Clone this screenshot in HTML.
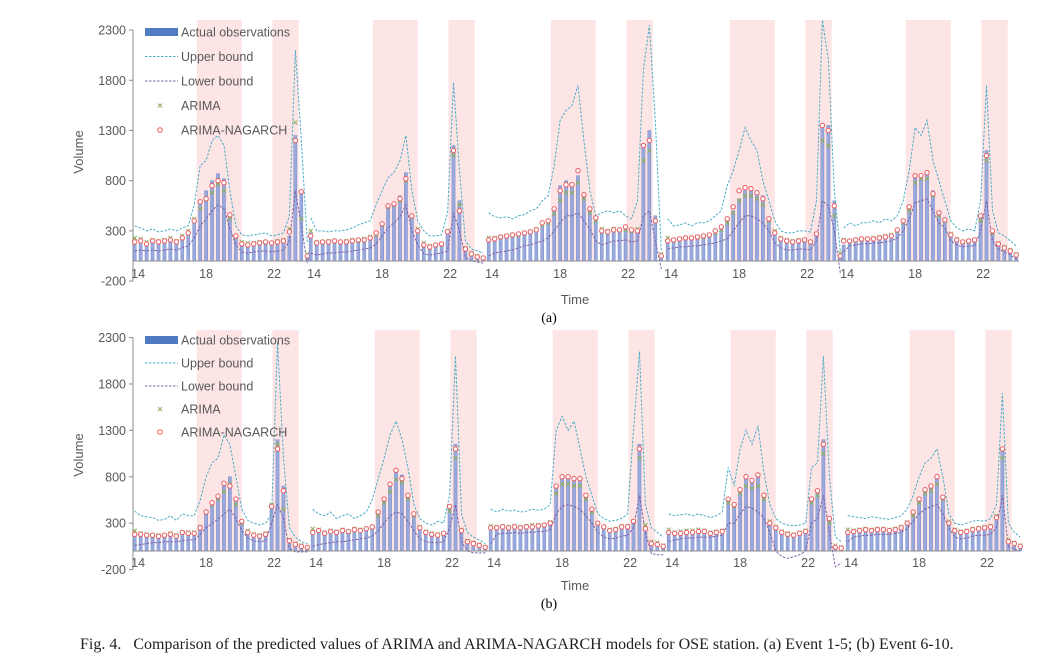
<!DOCTYPE html>
<html><head><meta charset="utf-8">
<style>
html,body{margin:0;padding:0;background:#fff;}
svg{display:block;font-family:"Liberation Sans",sans-serif;}
</style></head>
<body>
<svg id="chart" width="1037" height="663" viewBox="0 0 1037 663" xmlns="http://www.w3.org/2000/svg">
<g id="pa"></g>
<g id="pb"></g>
<text x="549" y="322" font-family="Liberation Serif, serif" font-size="14" text-anchor="middle">(a)</text>
<text x="549" y="608" font-family="Liberation Serif, serif" font-size="14" text-anchor="middle">(b)</text>
<text x="80" y="649" font-family="Liberation Serif, serif" font-size="16" fill="#222">Fig. 4.&#160;&#160; Comparison of the predicted values of ARIMA and ARIMA-NAGARCH models for OSE station. (a) Event 1-5; (b) Event 6-10.</text>
</svg>
<script>
const yTicks=[2300,1800,1300,800,300,-200];
const hourTicks=[14,18,22];
const bandHours=[[17.45,20.1],[21.9,23.45]];
// Panel (a) events 1-5
const actA=[
[180,200,170,190,180,200,210,190,230,270,380,600,700,800,870,820,460,260,170,150,160,170,180,170,180,190,250,1250,700,60],
[280,180,180,190,190,190,190,200,200,210,220,250,380,520,560,650,880,430,300,150,130,150,160,300,1150,600,120,70,40,20],
[200,220,230,240,250,260,270,280,300,350,400,520,750,800,780,850,650,520,420,300,280,300,300,320,300,280,1150,1300,450,40],
[200,200,210,220,220,230,230,250,300,330,400,500,620,700,730,700,650,420,300,230,200,190,200,200,180,250,1350,1350,600,40],
[160,180,190,200,200,210,220,230,240,300,400,550,870,850,900,700,500,400,250,200,180,190,200,450,1100,300,180,130,100,60]];
const upA=[
[350,330,300,320,290,300,320,300,330,350,560,950,1000,1200,1250,1150,700,350,260,250,260,270,280,250,260,280,450,2100,1200,180],
[430,300,300,290,300,300,310,330,360,380,400,560,700,830,880,1000,1250,700,400,300,250,250,260,480,1780,900,200,120,100,80],
[480,440,430,440,420,450,460,500,520,600,650,950,1400,1500,1550,1750,1200,700,450,480,500,480,500,450,420,600,1900,2350,1400,100],
[420,350,360,380,350,380,380,400,450,500,750,900,1100,1330,1200,1100,800,600,400,300,280,280,300,300,290,600,2400,2000,700,100],
[330,380,350,380,380,400,380,420,400,450,600,900,1330,1250,1400,1000,800,600,400,330,300,320,300,600,1750,500,280,250,200,150]];
const loA=[
[100,110,100,110,100,110,120,110,130,150,230,350,420,500,560,520,320,160,90,80,90,100,100,90,100,110,200,700,350,-20],
[80,60,70,80,80,90,90,100,110,120,130,170,250,330,380,440,560,300,160,70,60,70,80,100,480,300,40,0,-10,-20],
[50,80,90,100,110,130,150,160,180,200,230,300,380,450,450,480,400,320,200,160,180,200,200,210,190,200,450,500,200,-80],
[120,130,140,140,150,150,160,170,180,200,220,300,380,450,450,420,380,300,180,130,110,110,120,120,110,200,600,550,300,-120],
[90,150,160,170,170,180,180,190,200,230,300,420,580,600,620,500,380,330,200,160,140,150,150,300,600,200,120,90,60,20]];
const arA=[
[230,220,190,210,200,210,230,200,250,300,420,520,620,680,760,700,420,240,190,180,180,190,190,180,200,210,320,1380,420,70],
[300,190,190,200,200,190,200,210,200,220,240,260,360,540,560,600,800,440,320,180,150,160,170,300,1050,560,130,80,50,30],
[230,230,240,250,260,260,280,290,320,360,380,470,600,680,680,780,620,480,400,320,300,320,310,310,300,320,1000,1100,400,70],
[230,210,220,230,230,240,240,260,280,310,380,480,600,650,650,620,560,400,300,230,210,200,210,210,190,270,1200,1150,450,80],
[210,200,210,220,220,230,240,250,260,300,380,500,780,820,820,650,450,400,270,220,190,200,210,400,1000,280,180,140,110,70]];
const ngA=[
[190,200,170,200,190,200,210,190,230,280,400,590,620,750,800,780,460,250,170,160,170,180,190,180,190,200,290,1200,690,50],
[250,180,190,190,200,190,190,200,210,210,230,280,370,550,570,620,820,450,300,160,140,160,170,290,1100,500,120,70,40,30],
[210,220,240,250,260,270,280,290,310,380,400,520,700,760,760,900,660,520,430,300,290,310,310,340,310,300,1150,1200,400,50],
[200,210,220,230,230,240,250,260,300,340,420,540,700,730,720,680,620,420,280,220,200,190,200,210,190,270,1350,1300,550,50],
[200,200,210,220,220,220,230,240,250,310,400,540,850,850,880,670,480,410,260,210,190,200,210,450,1050,300,170,130,100,60]];
// Panel (b) events 6-10
const actB=[
[180,170,160,170,150,160,180,150,190,190,170,250,400,500,570,700,800,550,300,200,170,160,180,480,1200,700,80,60,40,30],
[200,220,190,210,200,220,200,230,220,230,250,400,550,700,850,820,600,400,250,200,180,170,180,450,1150,200,100,80,60,30],
[240,250,260,250,260,250,260,260,270,270,300,700,800,800,780,800,600,450,300,260,220,230,260,250,300,1150,250,80,70,50],
[200,180,190,200,200,210,200,180,190,200,550,500,650,780,750,800,600,300,250,200,180,170,190,200,550,650,1200,350,40,20],
[200,210,220,230,220,230,230,220,230,250,300,400,550,650,700,820,600,300,220,200,210,230,240,250,260,350,1100,100,80,50]];
const upB=[
[430,380,370,360,330,340,380,330,400,380,380,550,800,950,1000,1250,1150,800,450,330,300,280,300,400,2250,1000,250,150,100,80],
[450,400,380,420,350,380,400,350,380,420,550,780,1000,1250,1400,1200,900,500,350,300,280,320,300,600,2100,400,200,150,120,80],
[450,420,450,430,440,420,430,450,440,450,500,1300,1450,1300,1400,1100,800,600,400,350,320,330,350,400,1300,2150,500,250,200,150],
[400,380,390,400,380,400,380,360,380,420,900,700,1100,1300,1150,1350,850,500,350,300,280,270,280,300,900,950,2100,800,150,100],
[380,370,360,350,370,360,350,340,360,380,450,600,800,950,1000,1100,800,400,300,280,300,320,330,320,350,500,1700,300,200,150]];
const loB=[
[60,70,80,90,90,100,100,100,110,120,120,180,250,300,340,400,450,350,220,140,110,100,110,300,500,350,30,-10,-10,-10],
[50,70,80,90,100,100,110,120,130,140,160,220,300,380,420,400,320,220,130,100,90,90,100,250,500,100,0,-20,-20,-20],
[80,180,190,190,200,190,200,200,210,210,230,400,480,500,480,450,380,300,200,150,130,140,160,170,250,600,200,-30,-40,-40],
[100,120,130,140,140,150,150,150,160,170,300,300,400,480,460,420,350,200,0,-60,-80,-60,-40,0,300,350,600,200,-170,-130],
[100,150,160,170,170,180,180,180,190,200,240,320,400,450,480,500,400,250,150,130,140,160,170,170,180,250,600,50,20,0]];
const arB=[
[220,190,180,170,170,170,190,170,200,200,200,260,420,500,560,640,720,500,300,220,180,170,190,500,1150,450,120,80,60,40],
[240,230,200,220,210,230,210,240,230,240,260,380,520,640,770,740,560,380,260,210,190,180,190,430,1000,230,110,90,70,40],
[270,260,270,260,270,260,270,280,280,280,310,620,720,720,700,700,560,420,300,260,230,240,270,270,320,1000,280,100,90,60],
[230,200,210,220,220,230,220,200,210,220,520,480,620,700,680,700,560,320,260,210,190,180,200,220,520,600,1050,300,60,40],
[230,220,230,240,230,240,240,230,240,260,310,380,520,620,650,720,560,320,230,210,220,240,250,260,270,380,1000,120,90,60]];
const ngB=[
[180,180,170,170,160,170,180,160,200,190,190,250,420,520,590,730,700,560,320,200,170,160,180,480,1100,650,110,70,50,40],
[200,220,190,210,200,220,210,230,220,240,260,420,560,720,870,780,600,400,250,200,180,170,190,480,1100,220,100,80,60,40],
[250,250,260,250,260,250,260,260,270,280,300,700,800,800,780,780,600,450,300,260,220,230,260,260,320,1100,240,80,70,50],
[200,190,190,200,200,210,210,190,200,210,560,500,660,800,760,820,600,300,250,200,180,170,190,210,560,650,1150,350,40,30],
[200,210,220,230,220,230,230,220,230,250,300,420,560,660,700,800,580,300,220,200,210,230,240,250,260,360,1100,100,80,50]];

const NS='http://www.w3.org/2000/svg';
function mk(tag,attrs,parent){const e=document.createElementNS(NS,tag);for(const k in attrs)e.setAttribute(k,attrs[k]);parent.appendChild(e);return e;}

function drawPanel(g,cfg,act,up,lo,ar,ng){
  const y=v=>cfg.zeroY-v*cfg.k;
  const hx=(s,h)=>s+(h-13.7)*17;
  const ptH=(i,n)=>13.8+i*(10.15/(n-1));
  cfg.starts.forEach((s,e)=>{
    bandHours.forEach((b,j)=>{
      const r=mk('rect',{x:hx(s,b[0]),y:cfg.top,width:hx(s,b[1])-hx(s,b[0]),height:y(0)-cfg.top,fill:'#fde5e5'},g);
      
      
    });
  });
  let a=mk('line',{x1:cfg.x0,x2:cfg.x0,y1:y(2300),y2:y(-200),stroke:'#8c8c8c','stroke-width':1},g);
  
  
  yTicks.forEach(t=>{
    mk('line',{x1:cfg.x0-4,x2:cfg.x0,y1:y(t),y2:y(t),stroke:'#8c8c8c'},g);
    const tx=mk('text',{x:cfg.x0-7,y:y(t)+4.5,'font-size':12.5,fill:'#595959','text-anchor':'end'},g);
    tx.textContent=t;
    
    
  });
  const yl=mk('text',{x:0,y:0,'font-size':13,fill:'#595959','text-anchor':'middle',transform:`translate(${cfg.x0-50},${cfg.volY}) rotate(-90)`},g);
  yl.textContent='Volume';
  
  
  const tl=mk('text',{x:575,y:cfg.timeY,'font-size':13,fill:'#595959','text-anchor':'middle'},g);
  tl.textContent='Time';
  
  
  cfg.starts.forEach((s,e)=>{
    const n=act[e].length;
    const eg=mk('g',{},g);
    
    
    act[e].forEach((v,i)=>{
      const x=hx(s,ptH(i,n));
      const b=mk('rect',{x:x-1.6,y:Math.min(y(v),y(0)),width:3.2,height:Math.abs(y(v)-y(0)),fill:'#9aa9db',stroke:'#6a80c6','stroke-width':0.4},eg);
      
      
    });
    [[up[e],'#4bacc6','upper-bound-line'],[lo[e],'#7e5fa8','lower-bound-line']].forEach(([arr,c,nm])=>{
      const d=arr.map((v,i)=>(i?'L':'M')+hx(s,ptH(i,n)).toFixed(1)+','+y(v).toFixed(1)).join('');
      const p=mk('path',{d:d,fill:'none',stroke:c,'stroke-width':1,'stroke-dasharray':'2.5,1.5'},eg);
      
      
    });
    ar[e].forEach((v,i)=>{
      const x=hx(s,ptH(i,n)),yy=y(v);
      const m=mk('path',{d:`M${x-2},${yy-2}L${x+2},${yy+2}M${x-2},${yy+2}L${x+2},${yy-2}`,stroke:'#8fae5e','stroke-width':1},eg);
      
      
    });
    ng[e].forEach((v,i)=>{
      const c=mk('circle',{cx:hx(s,ptH(i,n)),cy:y(v),r:2.2,fill:'#fff',stroke:'#ea5a5f','stroke-width':1},eg);
      
      
    });
  });
  let xa=mk('line',{x1:cfg.x0,x2:1019,y1:y(0),y2:y(0),stroke:'#8c8c8c'},g);
  
  
  cfg.starts.forEach(s=>{
    hourTicks.forEach(h=>{
      const t=mk('text',{x:hx(s,h),y:cfg.tickY,'font-size':12.5,fill:'#595959','text-anchor':'middle'},g);
      t.textContent=h;
      
      
    });
  });
  const L=cfg.leg;
  const lg=mk('g',{},g);
  
  
  const labels=['Actual observations','Upper bound','Lower bound','ARIMA','ARIMA-NAGARCH'];
  labels.forEach((lab,i)=>{
    const yy=L.y+i*L.dy;
    if(i===0) mk('rect',{x:145,y:yy-4,width:33,height:8,fill:'#4e7bc2'},lg);
    if(i===1) mk('line',{x1:145,x2:178,y1:yy,y2:yy,stroke:'#4bacc6','stroke-dasharray':'2.5,1.5'},lg);
    if(i===2) mk('line',{x1:145,x2:178,y1:yy,y2:yy,stroke:'#7e5fa8','stroke-dasharray':'2.5,1.5'},lg);
    if(i===3) mk('path',{d:`M158,${yy-2}L162,${yy+2}M158,${yy+2}L162,${yy-2}`,stroke:'#8fae5e'},lg);
    if(i===4) mk('circle',{cx:160,cy:yy,r:2.3,fill:'#fff',stroke:'#ea5a5f'},lg);
    const t=mk('text',{x:181,y:yy+4.5,'font-size':12.5,fill:'#595959'},lg);
    t.textContent=lab;
    
    
  });
}
drawPanel(document.getElementById('pa'),{zeroY:261,k:0.1004,x0:133,top:20,starts:[133,309,487,666,842],off:1,tickY:278,timeY:304,volY:152,leg:{y:32,dy:24.5}},actA,upA,loA,arA,ngA);
drawPanel(document.getElementById('pb'),{zeroY:551,k:0.0928,x0:133,top:330,starts:[133,311,489,667,846],off:6,tickY:567,timeY:590,volY:455,leg:{y:340,dy:23}},actB,upB,loB,arB,ngB);
</script>
</body></html>
